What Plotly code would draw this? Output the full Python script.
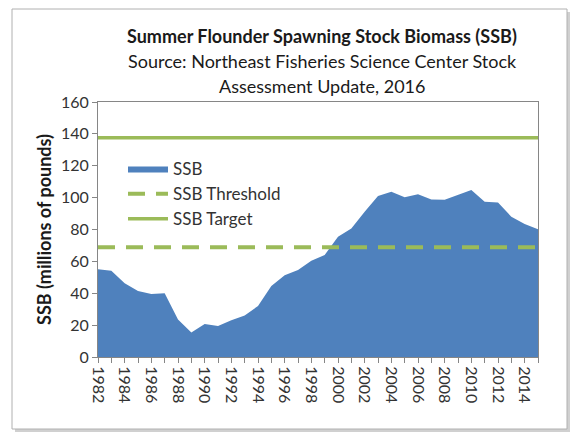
import plotly.graph_objects as go

years = list(range(1982, 2016))
ssb = [55.0, 54.1, 46.2, 41.4, 39.5, 40.0, 23.6, 15.3, 20.7, 19.4, 23.0, 26.1,
       32.0, 44.6, 51.3, 54.6, 60.4, 64.0, 75.5, 80.7, 91.2, 101.0, 103.7, 100.2,
       102.1, 98.9, 98.7, 101.6, 104.8, 97.4, 97.0, 88.0, 83.4, 80.1]
threshold = 68.8
target = 137.6
year_labels = [str(y) if y % 2 == 0 else "" for y in years]

W, H = 579, 444
L, R, T, B = 98, 41, 102, 87
pw, ph = W - L - R, H - T - B

def px(x):
    return (x - L) / pw

def py(y):
    return (H - B - y) / ph

font = "Lato, Calibri, sans-serif"
blue = "#4F81BD"
green = "#9BBB59"

fig = go.Figure()
fig.add_trace(go.Scatter(x=years, y=ssb, name="SSB", mode="lines",
                         fill="tozeroy", fillcolor=blue,
                         line=dict(color=blue, width=0)))
fig.add_trace(go.Scatter(x=[years[0], years[-1]], y=[threshold, threshold],
                         name="SSB Threshold", mode="lines",
                         line=dict(color=green, width=4, dash="17px,11px")))
fig.add_trace(go.Scatter(x=[years[0], years[-1]], y=[target, target],
                         name="SSB Target", mode="lines",
                         line=dict(color=green, width=3.5)))

# frame with shadow
shapes = [
    dict(type="rect", xref="paper", yref="paper", layer="below",
         x0=px(15), x1=px(570), y0=py(12), y1=py(432),
         line=dict(width=0), fillcolor="#d0d0d0"),
    dict(type="rect", xref="paper", yref="paper", layer="below",
         x0=px(12), x1=px(567), y0=py(9), y1=py(429),
         line=dict(width=1, color="#b0b0b0"), fillcolor="white"),
]

titles = [
    ("<b>Summer Flounder Spawning Stock Biomass (SSB)</b>", 36),
    ("Source: Northeast Fisheries Science Center Stock", 61),
    ("Assessment Update, 2016", 86),
]
annotations = [dict(text=t, xref="paper", yref="paper", x=px(322), y=py(yy),
                    xanchor="center", yanchor="middle", showarrow=False,
                    font=dict(family=font, size=18, color="#1a1a1a"))
               for t, yy in titles]

fig.update_layout(
    width=W, height=H,
    margin=dict(l=L, r=R, t=T, b=B),
    paper_bgcolor="white", plot_bgcolor="white",
    font=dict(family=font, size=16, color="#333333"),
    showlegend=True,
    legend=dict(x=px(123), y=py(151), xanchor="left", yanchor="top",
                bgcolor="rgba(0,0,0,0)", font=dict(size=17, color="#333333"),
                itemwidth=40, tracegroupgap=0),
    shapes=shapes,
    annotations=annotations,
)
fig.update_xaxes(range=[years[0], years[-1]], tickmode="array",
                 tickvals=years, ticktext=year_labels, tickangle=90,
                 ticks="outside", ticklen=5, tickcolor="#868686",
                 showline=True, linecolor="#868686", mirror=True,
                 showgrid=False, zeroline=False,
                 tickfont=dict(size=16, color="#333333"))
fig.update_yaxes(range=[0, 160], dtick=20, ticks="outside", ticklen=5,
                 tickcolor="#868686", showline=True, linecolor="#868686",
                 mirror=True, showgrid=False, zeroline=False,
                 title=dict(text="<b>SSB (millions of pounds)</b>",
                            font=dict(size=18, color="#1a1a1a"), standoff=4),
                 tickfont=dict(size=16, color="#333333"))

fig.write_html("out.html", config={"displayModeBar": False},
               post_script="document.body.style.margin='0px';")
